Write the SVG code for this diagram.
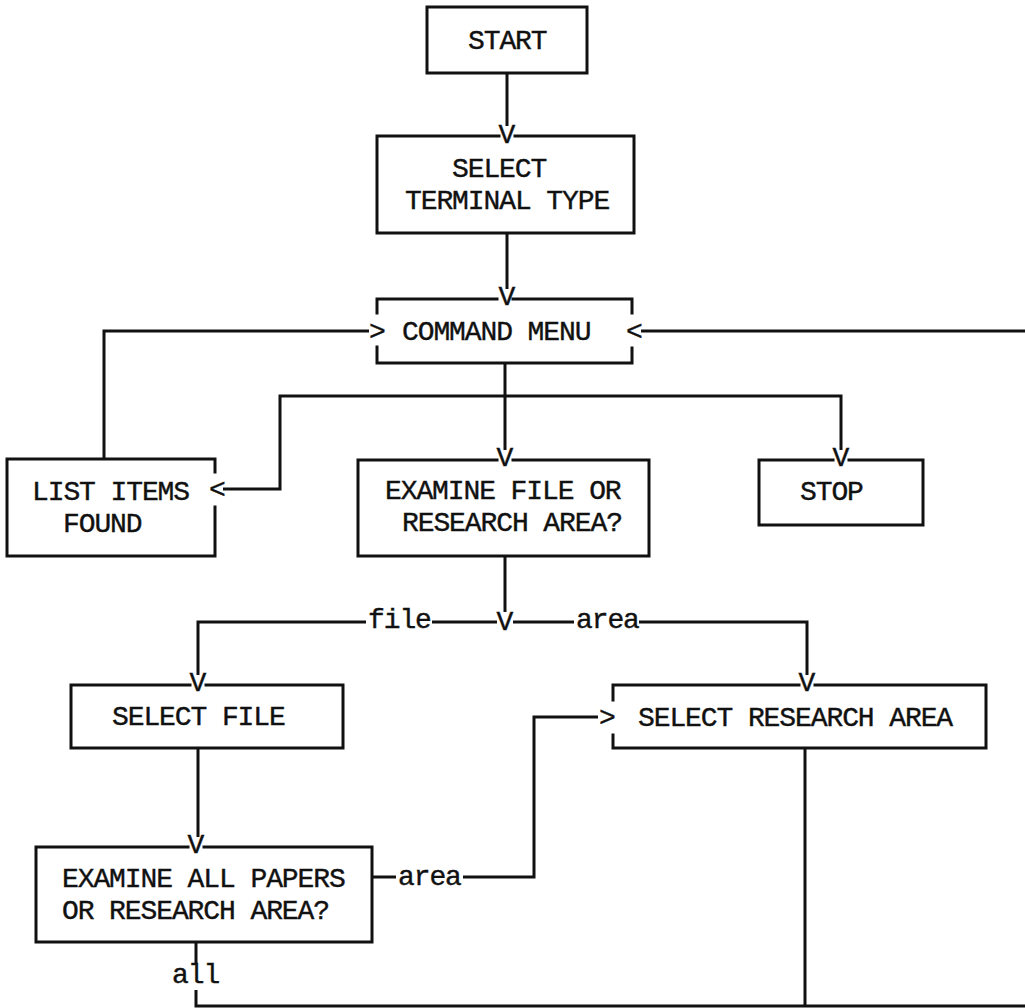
<svg xmlns="http://www.w3.org/2000/svg" width="1025" height="1008" viewBox="0 0 1025 1008">
<style>
.b{fill:none;stroke:#111;stroke-width:3;stroke-linecap:square}
.c{fill:none;stroke:#111;stroke-width:3}
text{font-family:"Liberation Mono","Courier New",monospace;font-size:28px;letter-spacing:-1.1px;fill:#111;stroke:#111;stroke-width:0.4}
.m{text-anchor:middle;letter-spacing:0}
</style>
<rect width="1025" height="1008" fill="#fff"/>
<g id="start"><path class="b" d="M427 7H587V73H427Z"/><text x="468" y="49">START</text></g>
<g id="terminal"><path class="b" d="M499 136H377V233H634V136H515"/><text x="452" y="177">SELECT</text><text x="405" y="209">TERMINAL TYPE</text></g>
<g id="menu"><path class="b" d="M497 299H377V313M377 347V363H632V348M632 313V299H513"/><text x="402" y="340">COMMAND MENU</text></g>
<g id="list"><path class="b" d="M215 472V459H7V556H215V507"/><text x="32" y="500">LIST ITEMS</text><text x="63" y="532">FOUND</text></g>
<g id="examine"><path class="b" d="M497 460H358V556H649V460H513"/><text x="385" y="499">EXAMINE FILE OR</text><text x="402" y="531">RESEARCH AREA?</text></g>
<g id="stop"><path class="b" d="M833 460H759V525H923V460H849"/><text x="800" y="500">STOP</text></g>
<g id="selfile"><path class="b" d="M190 685H71V748H343V685H206"/><text x="112" y="725">SELECT FILE</text></g>
<g id="selarea"><path class="b" d="M799 685H613V700M613 735V748H986V685H815"/><text x="638" y="726">SELECT RESEARCH AREA</text></g>
<g id="examall"><path class="b" d="M188 847H36V942H372V847H204"/><text x="62" y="887">EXAMINE ALL PAPERS</text><text x="62" y="919">OR RESEARCH AREA?</text></g>
<g id="connectors">
<path class="c" d="M507 73V126M507 233V289M104 459V331H369M1025 331H641M505 363V450M223 489H280V396H841V450M505 556V612M198 675V622H366M432 622H497M513 622H574M639 622H807V675M198 748V837M372 877H396M463 877H534V717H598M196 942V964M196 990V1006H1025M805 748V1006"/>
<text class="m" x="507" y="143">V</text>
<text class="m" x="507" y="305">V</text>
<text class="m" x="505" y="466">V</text>
<text class="m" x="841" y="466">V</text>
<text class="m" x="505" y="630">V</text>
<text class="m" x="198" y="691">V</text>
<text class="m" x="807" y="691">V</text>
<text class="m" x="196" y="853">V</text>
<text x="368" y="628">file</text>
<text x="576" y="628">area</text>
<text x="398" y="885">area</text>
<text x="172" y="983">all</text>
<text x="369" y="340">&gt;</text>
<text x="626" y="340">&lt;</text>
<text x="209" y="498">&lt;</text>
<text x="599" y="726">&gt;</text>
</g>
</svg>
